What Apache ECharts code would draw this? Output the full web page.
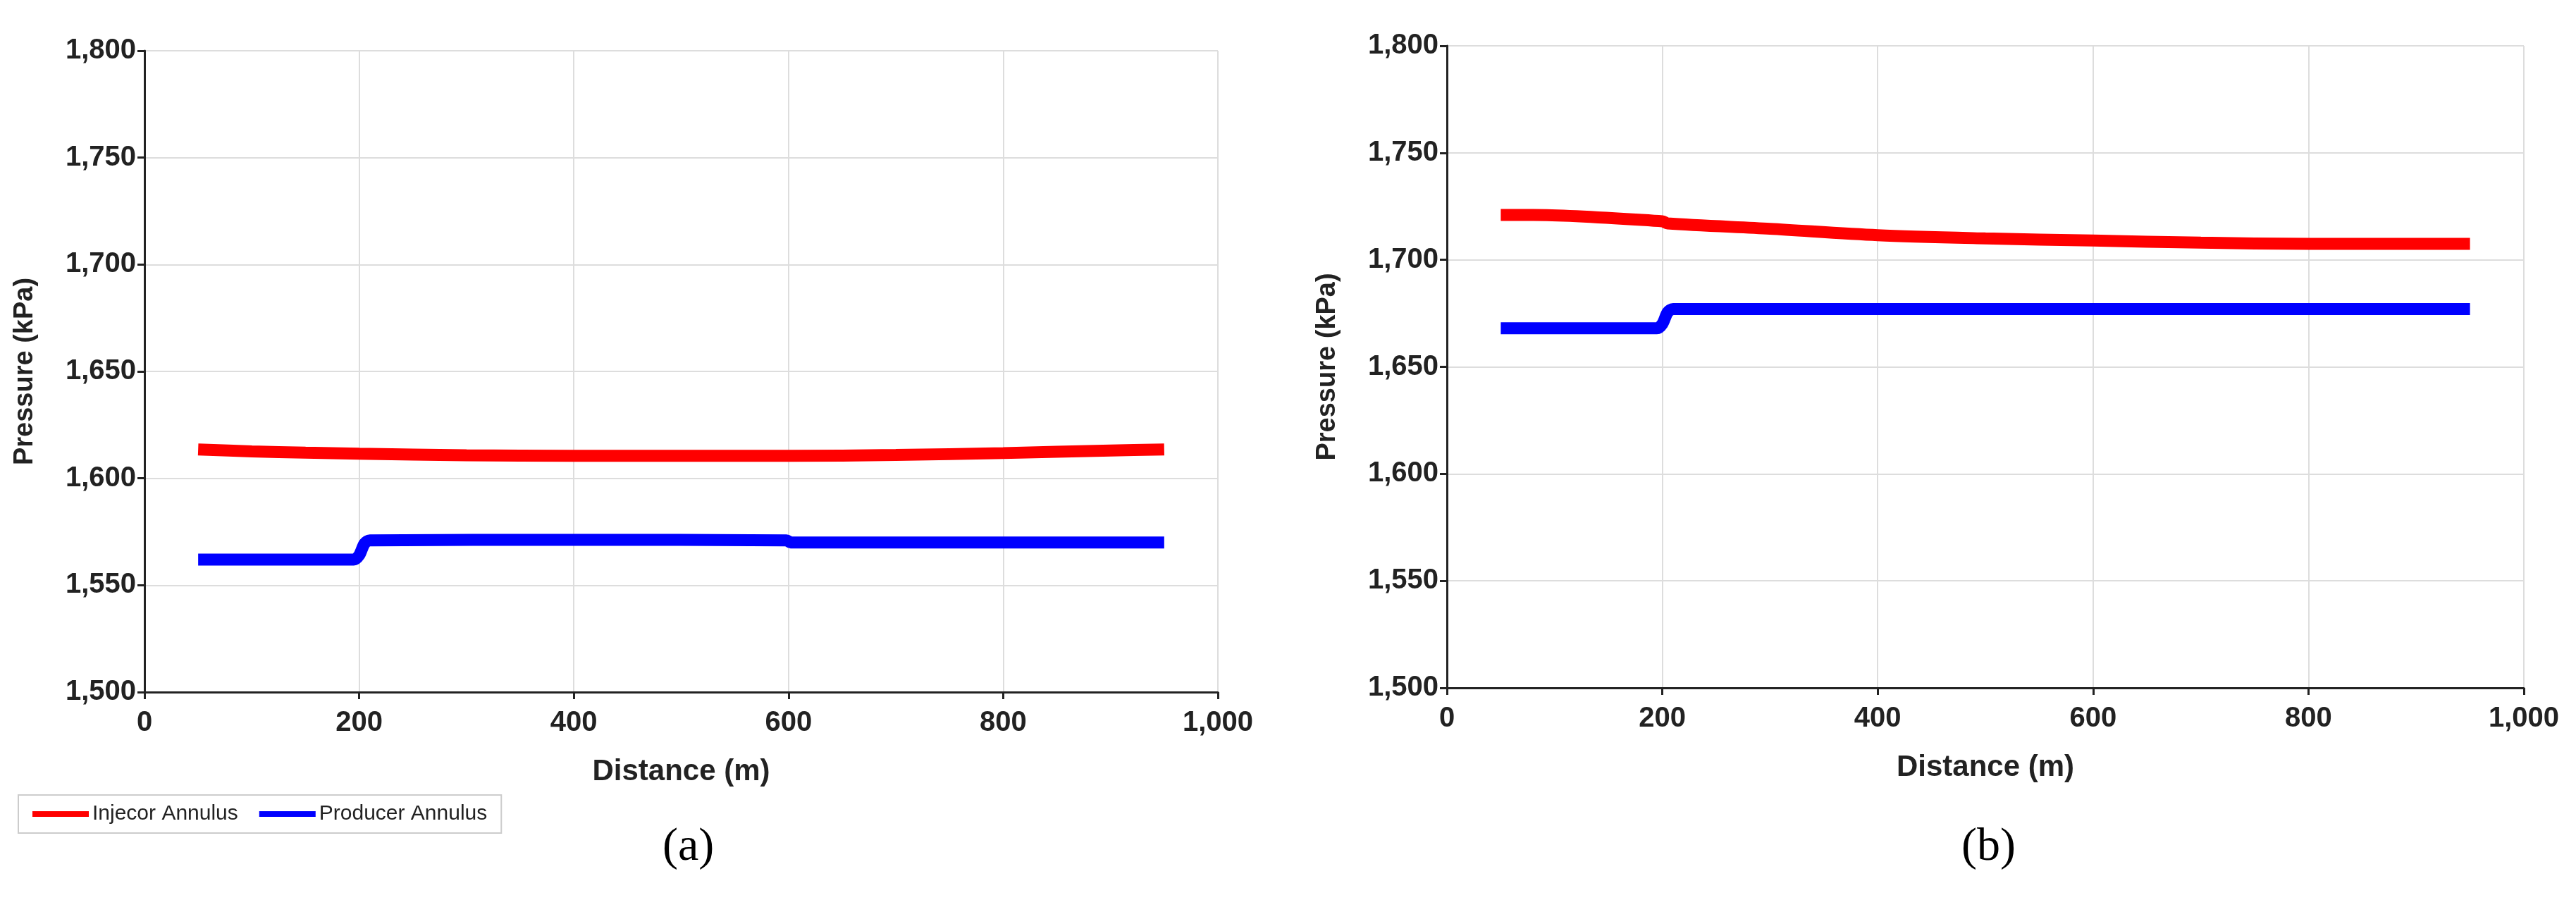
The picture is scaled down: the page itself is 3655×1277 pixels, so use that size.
<!DOCTYPE html>
<html>
<head>
<meta charset="utf-8">
<script src="https://cdn.jsdelivr.net/npm/echarts@6/dist/echarts.min.js"></script>
<style>html,body{margin:0;background:#fff}#chart-container{width:3655px;height:1277px}</style>
</head>
<body>
<div id="chart-container"></div>
<script>
var injA_x = [50, 100, 150, 200, 300, 400, 500, 600, 700, 800, 900, 950];
var injA_y = [1613.5, 1612.6, 1612, 1611.5, 1610.8, 1610.5, 1610.5, 1610.5, 1610.9, 1611.8, 1613, 1613.5];
var prodA_x = [50, 195, 200, 205, 210, 400, 598, 602, 800, 950];
var prodA_y = [1562, 1562, 1564, 1569.5, 1571, 1571.2, 1571, 1570, 1570, 1570];
var injB_x = [50, 80, 200, 205, 300, 400, 500, 600, 700, 800, 950];
var injB_y = [1721, 1721, 1718, 1717, 1714.5, 1711.5, 1710, 1709, 1708, 1707.5, 1707.5];
var prodB_x = [50, 195, 200, 205, 210, 400, 600, 800, 950];
var prodB_y = [1668, 1668, 1670, 1675.5, 1677, 1677, 1677, 1677, 1677];
var xTicks = [0, 200, 400, 600, 800, 1000];
var yTicks = [1500, 1550, 1600, 1650, 1700, 1750, 1800];

function pairs(xs, ys) { return xs.map(function (x, i) { return [x, ys[i]]; }); }
function fmt(v) { return v.toLocaleString('en-US'); }

var dom = document.getElementById('chart-container');
var myChart = echarts.init(dom);

var grids = [
  { left: 205, top: 72, width: 1523, height: 910 },
  { left: 2053, top: 65, width: 1528, height: 911 }
];
function xAxisFor(i) {
  return {
    gridIndex: i, type: 'value', min: xTicks[0], max: xTicks[xTicks.length - 1], interval: 200,
    name: 'Distance (m)', nameLocation: 'middle', nameGap: 92,
    nameTextStyle: { fontFamily: 'Liberation Sans Narrow, Liberation Sans', fontWeight: 'bold', fontSize: 42, color: '#222' },
    axisLine: { lineStyle: { color: '#222', width: 3 } },
    axisTick: { show: true, length: 10, lineStyle: { color: '#222', width: 3 } },
    axisLabel: { formatter: fmt, fontFamily: 'Liberation Sans Narrow, Liberation Sans', fontWeight: 'bold', fontSize: 40, color: '#222', margin: 24 },
    splitLine: { show: true, lineStyle: { color: '#ddd', width: 2 } }
  };
}
function yAxisFor(i) {
  return {
    gridIndex: i, type: 'value', min: yTicks[0], max: yTicks[yTicks.length - 1], interval: 50,
    name: 'Pressure (kPa)', nameLocation: 'middle', nameGap: 150,
    nameTextStyle: { fontFamily: 'Liberation Sans', fontWeight: 'bold', fontSize: 38, color: '#222' },
    axisLine: { show: true, lineStyle: { color: '#222', width: 3 } },
    axisTick: { show: true, length: 10, lineStyle: { color: '#222', width: 3 } },
    axisLabel: { formatter: fmt, fontFamily: 'Liberation Sans Narrow, Liberation Sans', fontWeight: 'bold', fontSize: 40, color: '#222', margin: 12 },
    splitLine: { show: true, lineStyle: { color: '#ddd', width: 2 } }
  };
}
function line(name, color, i, data) {
  return {
    name: name, type: 'line', xAxisIndex: i, yAxisIndex: i, data: data,
    smooth: 0.3, showSymbol: false, lineStyle: { color: color, width: 17 }, itemStyle: { color: color }
  };
}

var option = {
  animation: false,
  grid: grids,
  xAxis: [xAxisFor(0), xAxisFor(1)],
  yAxis: [yAxisFor(0), yAxisFor(1)],
  legend: {
    left: 26, top: 1128, itemWidth: 80, itemHeight: 8, itemGap: 30,
    padding: [12, 20], borderColor: '#ccc', borderWidth: 2,
    textStyle: { fontFamily: 'Liberation Sans Narrow, Liberation Sans', fontSize: 30, color: '#222' },
    data: [
      { name: 'Injecor Annulus', icon: 'rect' },
      { name: 'Producer Annulus', icon: 'rect' }
    ]
  },
  title: [
    { text: '(a)', left: 935, top: 1165, textStyle: { fontFamily: 'Liberation Serif', fontWeight: 'normal', fontSize: 66, color: '#000' } },
    { text: '(b)', left: 2778, top: 1165, textStyle: { fontFamily: 'Liberation Serif', fontWeight: 'normal', fontSize: 66, color: '#000' } }
  ],
  series: [
    line('Injecor Annulus', '#ff0000', 0, pairs(injA_x, injA_y)),
    line('Producer Annulus', '#0000ff', 0, pairs(prodA_x, prodA_y)),
    line('Injecor Annulus', '#ff0000', 1, pairs(injB_x, injB_y)),
    line('Producer Annulus', '#0000ff', 1, pairs(prodB_x, prodB_y))
  ]
};

myChart.setOption(option);
window.addEventListener('resize', myChart.resize);
</script>
</body>
</html>
